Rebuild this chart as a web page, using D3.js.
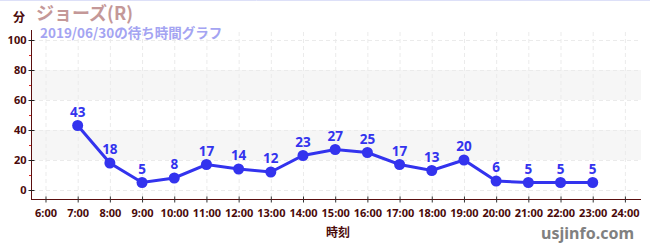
<!DOCTYPE html>
<html>
<head>
<meta charset="utf-8">
<script src="https://cdn.jsdelivr.net/npm/d3@7"></script>
<style>
  body { margin: 0; background: #fff; }
  svg { display: block; font-family: "Noto Sans CJK JP", "Noto Sans", sans-serif; }
</style>
</head>
<body>
<script>
// wait times for the day
const hours = ["7:00","8:00","9:00","10:00","11:00","12:00","13:00","14:00","15:00","16:00","17:00","18:00","19:00","20:00","21:00","22:00","23:00"];
const waits = [43, 18, 5, 8, 17, 14, 12, 23, 27, 25, 17, 13, 20, 6, 5, 5, 5];
const tickHours = d3.range(6, 25);
const yTicks = [0, 20, 40, 60, 80, 100];
const bands = [[20, 40], [60, 80]];

const w = 650, h = 250;
const margin = {top: 40, right: 9, bottom: 51, left: 31};

const svg = d3.select("body").append("svg")
  .attr("width", w)
  .attr("height", h);

// light border line at the top
svg.append("line")
  .attr("x1", 0).attr("x2", w).attr("y1", 0.5).attr("y2", 0.5)
  .attr("stroke", "#dde0f8");

const x = d3.scaleLinear()
  .domain([5.55, 24.5])
  .range([margin.left, w - margin.right]);

const y = d3.scaleLinear()
  .domain([0, 100])
  .range([190, 40]);

const hourOf = s => +s.split(":")[0];
const data = hours.map((s, i) => ({hour: hourOf(s), v: waits[i]}));

// grey bands
svg.append("g").selectAll("rect")
  .data(bands)
  .join("rect")
  .attr("x", margin.left + 1)
  .attr("width", x(24.5) - margin.left - 1)
  .attr("y", d => y(d[1]))
  .attr("height", d => y(d[0]) - y(d[1]))
  .attr("fill", "#f6f6f6");

// dashed grid
svg.append("g").selectAll("line")
  .data(yTicks)
  .join("line")
  .attr("x1", margin.left + 1).attr("x2", x(24.5))
  .attr("y1", d => y(d) + 0.5).attr("y2", d => y(d) + 0.5)
  .attr("stroke", "#ebebeb")
  .attr("stroke-dasharray", "4,3");

svg.append("g").selectAll("line")
  .data(tickHours)
  .join("line")
  .attr("x1", d => x(d) + 0.5).attr("x2", d => x(d) + 0.5)
  .attr("y1", 32).attr("y2", 199)
  .attr("stroke", "#ebebeb")
  .attr("stroke-dasharray", "4,3");

const axisColor = "#5a0f0f";

// x axis
const xAxis = svg.append("g")
  .attr("transform", "translate(0,199.5)")
  .call(d3.axisBottom(x).tickValues(tickHours).tickSize(4).tickFormat(d => d + ":00"));
xAxis.select(".domain")
  .attr("d", `M${margin.left},0H${x(24.5)}`)
  .attr("stroke", axisColor);
xAxis.selectAll(".tick line").attr("stroke", "#333").attr("y1", -3).attr("y2", 3);
xAxis.selectAll(".tick text")
  .attr("fill", "#4a0a0a")
  .attr("font-size", 11)
  .attr("font-weight", "bold")
  .attr("dy", "0.95em")
  .attr("font-family", "Noto Sans, sans-serif");

// y axis
const yAxis = svg.append("g")
  .attr("transform", `translate(${margin.left + 0.5},0)`)
  .call(d3.axisLeft(y).tickValues(yTicks).tickSize(3));
yAxis.select(".domain")
  .attr("d", `M0,30V200`)
  .attr("stroke", axisColor);
yAxis.selectAll(".tick line").attr("stroke", "#222").attr("x1", -3).attr("x2", 3);
yAxis.selectAll(".tick text")
  .attr("fill", "#4a0a0a")
  .attr("font-size", 11)
  .attr("font-weight", "bold")
  .attr("x", -5)
  .attr("font-family", "Noto Sans, sans-serif");

// minor red ticks
svg.append("g").selectAll("line")
  .data([10, 30, 50, 70, 90])
  .join("line")
  .attr("x1", margin.left - 2).attr("x2", margin.left)
  .attr("y1", d => y(d) + 0.5).attr("y2", d => y(d) + 0.5)
  .attr("stroke", "#e02020");

// line + points
const blue = "#3333ee";
svg.append("path")
  .datum(data)
  .attr("fill", "none")
  .attr("stroke", blue)
  .attr("stroke-width", 3)
  .attr("d", d3.line().x(d => x(d.hour)).y(d => y(d.v)));

svg.append("g").selectAll("circle")
  .data(data)
  .join("circle")
  .attr("cx", d => x(d.hour))
  .attr("cy", d => y(d.v))
  .attr("r", 5.5)
  .attr("fill", blue);

svg.append("g").selectAll("text")
  .data(data)
  .join("text")
  .attr("x", d => x(d.hour))
  .attr("y", d => y(d.v) - 9)
  .attr("text-anchor", "middle")
  .attr("fill", blue)
  .attr("font-size", 13.5)
  .attr("font-weight", "bold")
  .attr("font-family", "Noto Sans, sans-serif")
  .text(d => d.v);

// titles
svg.append("text")
  .attr("x", 13).attr("y", 22)
  .attr("fill", "#4a0a0a")
  .attr("font-size", 12)
  .attr("font-weight", "bold")
  .text("分");

svg.append("text")
  .attr("x", 36).attr("y", 20)
  .attr("fill", "#c49898")
  .attr("font-size", 18)
  .attr("font-weight", "bold")
  .text("ジョーズ(R)");

svg.append("text")
  .attr("x", 40).attr("y", 38)
  .attr("fill", "#a4a4f2")
  .attr("font-size", 13.5)
  .attr("font-weight", "bold")
  .text("2019/06/30の待ち時間グラフ");

svg.append("text")
  .attr("x", 338).attr("y", 237)
  .attr("text-anchor", "middle")
  .attr("fill", "#4a0a0a")
  .attr("font-size", 12)
  .attr("font-weight", "bold")
  .text("時刻");

svg.append("text")
  .attr("x", 634).attr("y", 239)
  .attr("text-anchor", "end")
  .attr("fill", "#808080")
  .attr("font-size", 16)
  .attr("font-weight", "bold")
  .attr("font-family", "Noto Sans, sans-serif")
  .text("usjinfo.com");
</script>
</body>
</html>
